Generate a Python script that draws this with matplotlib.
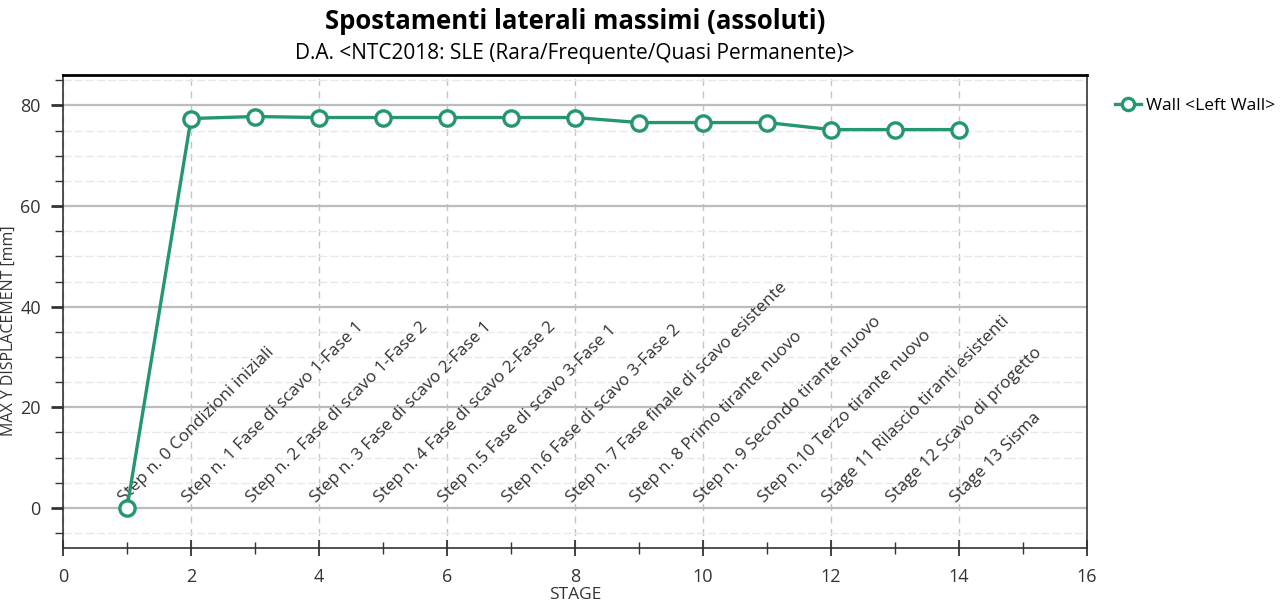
import matplotlib.pyplot as plt
from matplotlib.ticker import MultipleLocator

plt.rcParams['font.family'] = ['Open Sans', 'DejaVu Sans']

# data
stages = [1, 2, 3, 4, 5, 6, 7, 8, 9, 10, 11, 12, 13, 14]
max_disp = [0.0, 77.4, 77.8, 77.6, 77.6, 77.6, 77.6, 77.6, 76.6, 76.6, 76.6, 75.2, 75.2, 75.2]
stage_names = [
    "Step n. 0 Condizioni iniziali",
    "Step n. 1 Fase di scavo 1-Fase 1",
    "Step n. 2 Fase di scavo 1-Fase 2",
    "Step n. 3 Fase di scavo 2-Fase 1",
    "Step n. 4 Fase di scavo 2-Fase 2",
    "Step n.5 Fase di scavo 3-Fase 1",
    "Step n.6 Fase di scavo 3-Fase 2",
    "Step n. 7 Fase finale di scavo esistente",
    "Step n. 8 Primo tirante nuovo",
    "Step n. 9 Secondo tirante nuovo",
    "Step n.10 Terzo tirante nuovo",
    "Stage 11 Rilascio tiranti esistenti",
    "Stage 12 Scavo di progetto",
    "Stage 13 Sisma",
]
series_label = "Wall <Left Wall>"
green = "#25976f"
dark = "#333333"

fig = plt.figure(figsize=(12.87, 6.07), dpi=100)
ax = fig.add_axes([0.049, 0.097, 0.7956, 0.779])

ax.plot(stages, max_disp, color=green, lw=2.4, marker="o", ms=11,
        mfc="white", mec=green, mew=2.4, label=series_label, zorder=5)

# stage descriptions, rotated along the bottom
for x, name in zip(stages, stage_names):
    ax.text(x, 0.3, name, rotation=45, rotation_mode="anchor",
            ha="left", va="bottom", fontsize=12.3, color=dark, zorder=4)

ax.set_xlim(0, 16)
ax.set_ylim(-8, 86)
ax.xaxis.set_major_locator(MultipleLocator(2))
ax.xaxis.set_minor_locator(MultipleLocator(1))
ax.yaxis.set_major_locator(MultipleLocator(20))
ax.yaxis.set_minor_locator(MultipleLocator(5))

ax.grid(which="major", axis="y", color="#bcbcbc", lw=1.6, ls="-")
ax.grid(which="minor", axis="y", color="#e8e8e8", lw=1.0, ls=(0, (6, 2)))
ax.grid(which="major", axis="x", color="#c4c4c4", lw=1.0, ls=(0, (5, 4)))

ax.tick_params(axis="x", which="major", direction="inout", length=12, width=1.3,
               labelsize=13, colors=dark, pad=8)
ax.tick_params(axis="x", which="minor", direction="inout", length=9, width=1.0, color=dark)
ax.tick_params(axis="y", which="major", length=9, width=2, labelsize=13,
               colors=dark, pad=7)
ax.tick_params(axis="y", which="minor", length=6, width=1.0, color=dark)

for side in ["left", "bottom", "right"]:
    ax.spines[side].set_color(dark)
    ax.spines[side].set_linewidth(1.2)
ax.spines["top"].set_color("black")
ax.spines["top"].set_linewidth(2)

ax.set_xlabel("STAGE", fontsize=12.5, color=dark, labelpad=1)
ax.set_ylabel("MAX Y DISPLACEMENT [mm]", fontsize=11.5, color=dark)
ax.yaxis.set_label_coords(-0.045, 0.46)

fig.text(0.4467, 0.965, "Spostamenti laterali massimi (assoluti)",
         ha="center", va="center", fontsize=18.5, fontweight="bold")
fig.text(0.4467, 0.912, "D.A. <NTC2018: SLE (Rara/Frequente/Quasi Permanente)>",
         ha="center", va="center", fontsize=15)

ax.legend(loc="upper left", bbox_to_anchor=(1.012, 0.985), frameon=False,
          fontsize=12.5, handlelength=1.5, handletextpad=0.3, markerscale=0.8)

fig.savefig("out.png", dpi=100)
